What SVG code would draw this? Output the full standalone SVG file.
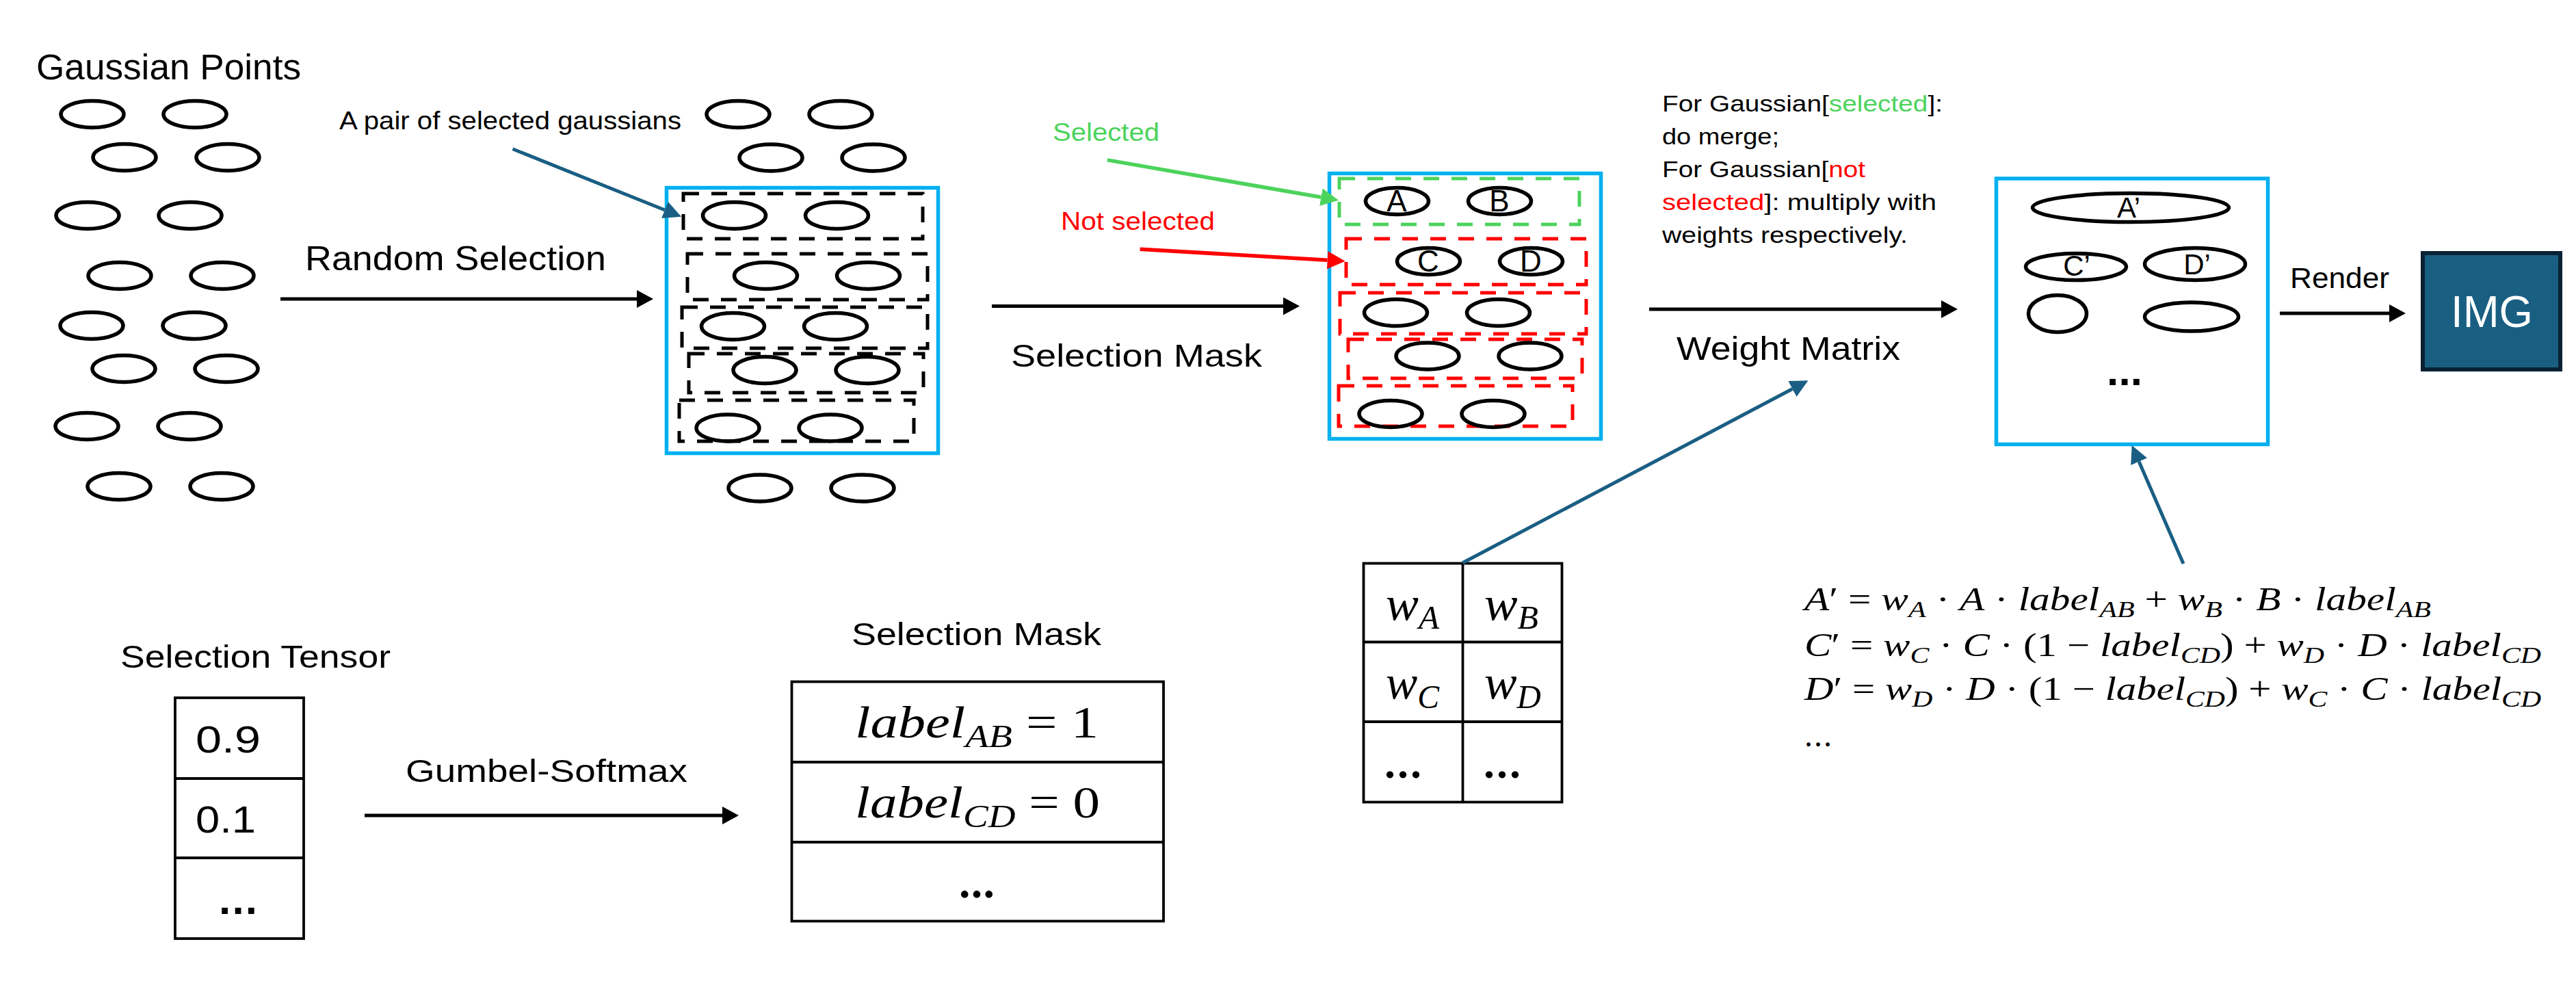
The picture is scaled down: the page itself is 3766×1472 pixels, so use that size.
<svg xmlns="http://www.w3.org/2000/svg" width="3766" height="1472" viewBox="0 0 3766 1472">
<style>
.lbl{font-family:"Liberation Sans",Arial,sans-serif;fill:#000}
.g{fill:none;stroke:#000;stroke-width:5.5}
.box{fill:none;stroke:#00B0F0;stroke-width:5.5}
.dk{fill:none;stroke:#000;stroke-width:5;stroke-dasharray:23 18}
.dg{fill:none;stroke:#4CD35C;stroke-width:5;stroke-dasharray:23 18}
.dr{fill:none;stroke:#FF0000;stroke-width:5;stroke-dasharray:23 18}
.tb{fill:none;stroke:#000;stroke-width:3.8}
.math{font-family:"Liberation Serif","Times New Roman",serif;font-style:italic;fill:#000}
.up{font-style:normal}
.arr{stroke:#000;stroke-width:5;fill:none}
.barr{stroke:#1A5E83;stroke-width:5;fill:none}
</style>
<defs>
<marker id="mk" markerUnits="userSpaceOnUse" markerWidth="24" markerHeight="26" refX="0" refY="13" orient="auto"><path d="M0,0 L24,13 L0,26 Z" fill="#000"/></marker>
<marker id="mb" markerUnits="userSpaceOnUse" markerWidth="26" markerHeight="26" refX="0" refY="13" orient="auto"><path d="M0,0 L26,13 L0,26 Z" fill="#1A5E83"/></marker>
<marker id="mg" markerUnits="userSpaceOnUse" markerWidth="26" markerHeight="26" refX="0" refY="13" orient="auto"><path d="M0,0 L26,13 L0,26 Z" fill="#4CD35C"/></marker>
<marker id="mr" markerUnits="userSpaceOnUse" markerWidth="26" markerHeight="26" refX="0" refY="13" orient="auto"><path d="M0,0 L26,13 L0,26 Z" fill="#FF0000"/></marker>
</defs>
<rect width="3766" height="1472" fill="#fff"/>

<g id="gaussian-points">
<text class="lbl" x="53" y="116" font-size="51" textLength="387" lengthAdjust="spacingAndGlyphs">Gaussian Points</text>
<ellipse class="g" cx="135" cy="167" rx="46" ry="19.5"/><ellipse class="g" cx="285" cy="167" rx="46" ry="19.5"/>
<ellipse class="g" cx="182" cy="230" rx="46" ry="19.5"/><ellipse class="g" cx="333" cy="230" rx="46" ry="19.5"/>
<ellipse class="g" cx="128" cy="315" rx="46" ry="19.5"/><ellipse class="g" cx="278" cy="315" rx="46" ry="19.5"/>
<ellipse class="g" cx="175" cy="403" rx="46" ry="19.5"/><ellipse class="g" cx="325" cy="403" rx="46" ry="19.5"/>
<ellipse class="g" cx="134" cy="476" rx="46" ry="19.5"/><ellipse class="g" cx="284" cy="476" rx="46" ry="19.5"/>
<ellipse class="g" cx="181" cy="539" rx="46" ry="19.5"/><ellipse class="g" cx="331" cy="539" rx="46" ry="19.5"/>
<ellipse class="g" cx="127" cy="623" rx="46" ry="19.5"/><ellipse class="g" cx="277" cy="623" rx="46" ry="19.5"/>
<ellipse class="g" cx="174" cy="711" rx="46" ry="19.5"/><ellipse class="g" cx="324" cy="711" rx="46" ry="19.5"/>
</g>

<g id="random-selection-stage">
<ellipse class="g" cx="1079" cy="167" rx="46" ry="19.5"/><ellipse class="g" cx="1229" cy="167" rx="46" ry="19.5"/>
<ellipse class="g" cx="1127" cy="230.5" rx="46" ry="19.5"/><ellipse class="g" cx="1277" cy="230.5" rx="46" ry="19.5"/>
<ellipse class="g" cx="1111" cy="713.5" rx="46" ry="19.5"/><ellipse class="g" cx="1261" cy="713.5" rx="46" ry="19.5"/>
<rect class="box" x="974.5" y="274.5" width="397" height="388"/>
<rect class="dk" x="999" y="283" width="350" height="66"/>
<rect class="dk" x="1005" y="371" width="351" height="67"/>
<rect class="dk" x="997" y="449" width="359" height="60"/>
<rect class="dk" x="1007" y="517" width="343" height="57"/>
<rect class="dk" x="993" y="585" width="343" height="60"/>
<ellipse class="g" cx="1073.5" cy="315" rx="46" ry="19.5"/><ellipse class="g" cx="1223.5" cy="315" rx="46" ry="19.5"/>
<ellipse class="g" cx="1119.5" cy="403" rx="46" ry="19.5"/><ellipse class="g" cx="1269.5" cy="403" rx="46" ry="19.5"/>
<ellipse class="g" cx="1071.5" cy="477" rx="46" ry="19.5"/><ellipse class="g" cx="1221.5" cy="477" rx="46" ry="19.5"/>
<ellipse class="g" cx="1118" cy="541" rx="46" ry="19.5"/><ellipse class="g" cx="1268" cy="541" rx="46" ry="19.5"/>
<ellipse class="g" cx="1064" cy="625.5" rx="46" ry="19.5"/><ellipse class="g" cx="1214" cy="625.5" rx="46" ry="19.5"/>
</g>

<g id="selection-mask-stage">
<rect class="box" x="1943.5" y="253.5" width="397" height="388"/>
<rect class="dg" x="1958" y="261" width="351" height="67"/>
<rect class="dr" x="1968" y="349" width="351" height="67"/>
<rect class="dr" x="1959" y="428" width="360" height="60"/>
<rect class="dr" x="1971" y="496" width="342" height="57"/>
<rect class="dr" x="1957" y="564" width="342" height="59"/>
<ellipse class="g" cx="2042.5" cy="294" rx="46" ry="19.5"/><ellipse class="g" cx="2192.5" cy="294" rx="46" ry="19.5"/>
<ellipse class="g" cx="2088.5" cy="382" rx="46" ry="19.5"/><ellipse class="g" cx="2238.5" cy="382" rx="46" ry="19.5"/>
<ellipse class="g" cx="2040.5" cy="457" rx="46" ry="19.5"/><ellipse class="g" cx="2190.5" cy="457" rx="46" ry="19.5"/>
<ellipse class="g" cx="2087" cy="520.5" rx="46" ry="19.5"/><ellipse class="g" cx="2237" cy="520.5" rx="46" ry="19.5"/>
<ellipse class="g" cx="2033" cy="605" rx="46" ry="19.5"/><ellipse class="g" cx="2183" cy="605" rx="46" ry="19.5"/>
<text class="lbl" x="2042" y="309" font-size="44" text-anchor="middle">A</text>
<text class="lbl" x="2192" y="309" font-size="44" text-anchor="middle">B</text>
<text class="lbl" x="2088" y="397" font-size="44" text-anchor="middle">C</text>
<text class="lbl" x="2238" y="397" font-size="44" text-anchor="middle">D</text>
</g>

<g id="merged-stage">
<rect class="box" x="2918.5" y="261" width="397" height="388.5"/>
<ellipse class="g" cx="3115" cy="303.5" rx="143.5" ry="21"/>
<ellipse class="g" cx="3035" cy="390" rx="73.5" ry="19.5"/>
<ellipse class="g" cx="3209" cy="386" rx="73.5" ry="23.5"/>
<ellipse class="g" cx="3008" cy="458.5" rx="42.5" ry="27"/>
<ellipse class="g" cx="3204" cy="463" rx="68.5" ry="21"/>
<text class="lbl" x="3112" y="318" font-size="42" text-anchor="middle">A’</text>
<text class="lbl" x="3036" y="403" font-size="42" text-anchor="middle">C’</text>
<text class="lbl" x="3212" y="401" font-size="42" text-anchor="middle">D’</text>
<text class="lbl" x="3080" y="563" font-size="62" font-weight="bold" textLength="52" lengthAdjust="spacing">...</text>
</g>

<g id="img">
<rect x="3542" y="370" width="201" height="170" fill="#195F82" stroke="#0A2235" stroke-width="6"/>
<text x="3643" y="478" font-family="'Liberation Sans',Arial,sans-serif" font-size="65" fill="#fff" text-anchor="middle" textLength="120" lengthAdjust="spacingAndGlyphs">IMG</text>
</g>

<g id="labels">
<text class="lbl" x="496" y="189" font-size="37" textLength="500" lengthAdjust="spacingAndGlyphs">A pair of selected gaussians</text>
<text class="lbl" x="446" y="395" font-size="50" textLength="440" lengthAdjust="spacingAndGlyphs">Random Selection</text>
<text class="lbl" x="1539" y="206" font-size="37" textLength="156" lengthAdjust="spacingAndGlyphs" style="fill:#4CD35C">Selected</text>
<text class="lbl" x="1551" y="336" font-size="37" textLength="225" lengthAdjust="spacingAndGlyphs" style="fill:#FF0000">Not selected</text>
<text class="lbl" x="1478" y="536" font-size="47" textLength="367" lengthAdjust="spacingAndGlyphs">Selection Mask</text>
<text class="lbl" x="2451" y="526" font-size="48" textLength="327" lengthAdjust="spacingAndGlyphs">Weight Matrix</text>
<text class="lbl" x="3348" y="421" font-size="43" textLength="145" lengthAdjust="spacingAndGlyphs">Render</text>
</g>

<g id="merge-note">
<text class="lbl" x="2430" y="162.5" font-size="34" textLength="410" lengthAdjust="spacingAndGlyphs">For Gaussian[<tspan style="fill:#4CD35C">selected</tspan>]:</text>
<text class="lbl" x="2430" y="210.5" font-size="34" textLength="171" lengthAdjust="spacingAndGlyphs">do merge;</text>
<text class="lbl" x="2430" y="258.5" font-size="34" textLength="297" lengthAdjust="spacingAndGlyphs">For Gaussian[<tspan style="fill:#FF0000">not</tspan></text>
<text class="lbl" x="2430" y="306.5" font-size="34" textLength="401" lengthAdjust="spacingAndGlyphs"><tspan style="fill:#FF0000">selected</tspan>]: multiply with</text>
<text class="lbl" x="2430" y="354.5" font-size="34" textLength="359" lengthAdjust="spacingAndGlyphs">weights respectively.</text>
</g>

<g id="selection-tensor">
<text class="lbl" x="176" y="976" font-size="47" textLength="395" lengthAdjust="spacingAndGlyphs">Selection Tensor</text>
<rect class="tb" x="256" y="1020" width="188" height="352"/>
<line class="tb" x1="256" y1="1138" x2="444" y2="1138"/>
<line class="tb" x1="256" y1="1254" x2="444" y2="1254"/>
<text class="lbl" x="286" y="1100" font-size="55" textLength="95" lengthAdjust="spacingAndGlyphs">0.9</text>
<text class="lbl" x="286" y="1217" font-size="55" textLength="88" lengthAdjust="spacingAndGlyphs">0.1</text>
<text class="lbl" x="320" y="1336" font-size="62" font-weight="bold" textLength="56" lengthAdjust="spacing">...</text>
<text class="lbl" x="593" y="1143" font-size="46" textLength="412" lengthAdjust="spacingAndGlyphs">Gumbel-Softmax</text>
</g>

<g id="selection-mask-table">
<text class="lbl" x="1245" y="943" font-size="46" textLength="365" lengthAdjust="spacingAndGlyphs">Selection Mask</text>
<rect class="tb" x="1157.5" y="996.5" width="543.5" height="350"/>
<line class="tb" x1="1157.5" y1="1114" x2="1701" y2="1114"/>
<line class="tb" x1="1157.5" y1="1231" x2="1701" y2="1231"/>
<text class="math" x="1250" y="1078" font-size="66" textLength="356" lengthAdjust="spacingAndGlyphs">label<tspan font-size="46" dy="14">AB</tspan><tspan class="up" dy="-14"> = 1</tspan></text>
<text class="math" x="1250" y="1195" font-size="66" textLength="358" lengthAdjust="spacingAndGlyphs">label<tspan font-size="46" dy="14">CD</tspan><tspan class="up" dy="-14"> = 0</tspan></text>
<text class="math up" x="1402" y="1312" font-size="66" font-weight="bold" textLength="52" lengthAdjust="spacing">...</text>
</g>

<g id="weight-table">
<rect class="tb" x="1993.5" y="823.5" width="290" height="349"/>
<line class="tb" x1="2138.5" y1="823.5" x2="2138.5" y2="1172.5"/>
<line class="tb" x1="1993.5" y1="938.5" x2="2283.5" y2="938.5"/>
<line class="tb" x1="1993.5" y1="1055" x2="2283.5" y2="1055"/>
<text class="math" x="2026" y="906" font-size="70" textLength="78" lengthAdjust="spacingAndGlyphs">w<tspan font-size="48" dy="13">A</tspan></text>
<text class="math" x="2170" y="906" font-size="70" textLength="79" lengthAdjust="spacingAndGlyphs">w<tspan font-size="48" dy="13">B</tspan></text>
<text class="math" x="2026" y="1021" font-size="70" textLength="78" lengthAdjust="spacingAndGlyphs">w<tspan font-size="48" dy="14">C</tspan></text>
<text class="math" x="2170" y="1021" font-size="70" textLength="83" lengthAdjust="spacingAndGlyphs">w<tspan font-size="48" dy="14">D</tspan></text>
<text class="math up" x="2024" y="1137" font-size="64" font-weight="bold" textLength="54" lengthAdjust="spacing">...</text>
<text class="math up" x="2169" y="1137" font-size="64" font-weight="bold" textLength="54" lengthAdjust="spacing">...</text>
</g>

<g id="formulas">
<text class="math" x="2638" y="892" font-size="48" textLength="916" lengthAdjust="spacingAndGlyphs">A<tspan class="up">′ = </tspan>w<tspan font-size="34" dy="10">A</tspan><tspan class="up" dy="-10"> · </tspan>A<tspan class="up"> · </tspan>label<tspan font-size="34" dy="10">AB</tspan><tspan class="up" dy="-10"> + </tspan>w<tspan font-size="34" dy="10">B</tspan><tspan class="up" dy="-10"> · </tspan>B<tspan class="up"> · </tspan>label<tspan font-size="34" dy="10">AB</tspan></text>
<text class="math" x="2638" y="959" font-size="48" textLength="1077" lengthAdjust="spacingAndGlyphs">C<tspan class="up">′ = </tspan>w<tspan font-size="34" dy="10">C</tspan><tspan class="up" dy="-10"> · </tspan>C<tspan class="up"> · (1 − </tspan>label<tspan font-size="34" dy="10">CD</tspan><tspan class="up" dy="-10">) + </tspan>w<tspan font-size="34" dy="10">D</tspan><tspan class="up" dy="-10"> · </tspan>D<tspan class="up"> · </tspan>label<tspan font-size="34" dy="10">CD</tspan></text>
<text class="math" x="2638" y="1023" font-size="48" textLength="1077" lengthAdjust="spacingAndGlyphs">D<tspan class="up">′ = </tspan>w<tspan font-size="34" dy="10">D</tspan><tspan class="up" dy="-10"> · </tspan>D<tspan class="up"> · (1 − </tspan>label<tspan font-size="34" dy="10">CD</tspan><tspan class="up" dy="-10">) + </tspan>w<tspan font-size="34" dy="10">C</tspan><tspan class="up" dy="-10"> · </tspan>C<tspan class="up"> · </tspan>label<tspan font-size="34" dy="10">CD</tspan></text>
<text class="math up" x="2638" y="1091" font-size="48" textLength="40" lengthAdjust="spacing">...</text>
</g>

<g id="connectors">
<line class="arr" x1="410" y1="437" x2="931" y2="437" marker-end="url(#mk)"/>
<line class="arr" x1="1450" y1="447.5" x2="1876" y2="447.5" marker-end="url(#mk)"/>
<line class="arr" x1="2411" y1="452" x2="2838" y2="452" marker-end="url(#mk)"/>
<line class="arr" x1="3333" y1="458" x2="3493" y2="458" marker-end="url(#mk)"/>
<line class="arr" x1="533" y1="1192" x2="1056" y2="1192" marker-end="url(#mk)"/>
<line class="barr" x1="749.5" y1="217.8" x2="971.9" y2="307" marker-end="url(#mb)"/>
<line class="barr" x1="2138.3" y1="822.7" x2="2620.4" y2="568.5" marker-end="url(#mb)"/>
<line class="barr" x1="3192" y1="824" x2="3127.1" y2="674.8" marker-end="url(#mb)"/>
<line x1="1618.8" y1="233.9" x2="1931.4" y2="288.3" stroke="#4CD35C" stroke-width="5.5" marker-end="url(#mg)"/>
<line x1="1666.6" y1="364.3" x2="1940.7" y2="380.2" stroke="#FF0000" stroke-width="5.5" marker-end="url(#mr)"/>
</g>
</svg>
